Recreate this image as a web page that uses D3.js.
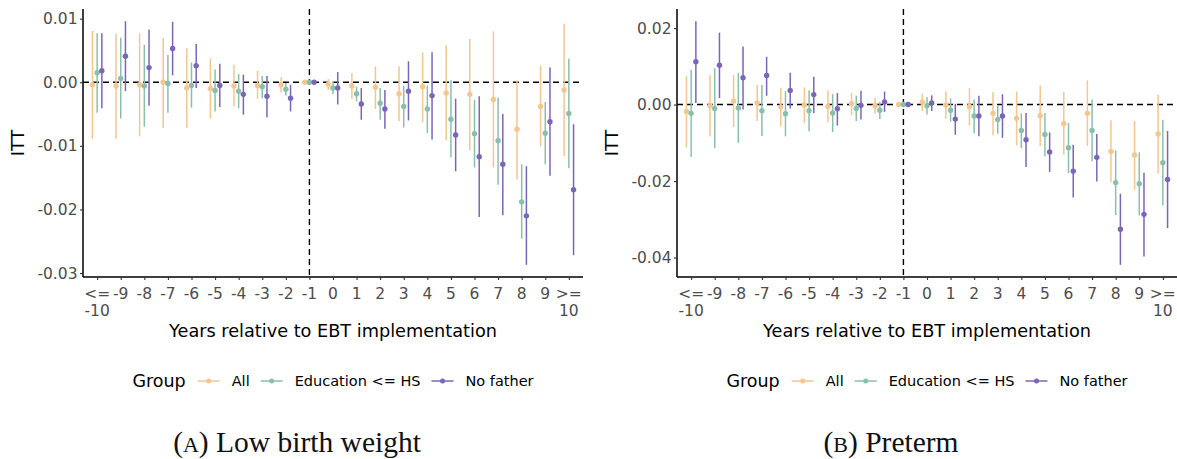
<!DOCTYPE html>
<html>
<head>
<meta charset="utf-8">
<script src="https://cdn.jsdelivr.net/npm/d3@7"></script>
<style>
  body { margin: 0; background: #fff; }
  svg { display: block; }
</style>
</head>
<body>
<script>
// Event-time categories (x axis)
const years = ["<=-10", "-9", "-8", "-7", "-6", "-5", "-4", "-3", "-2", "-1",
               "0", "1", "2", "3", "4", "5", "6", "7", "8", "9", ">=10"];
const yearLabels = [["<=", "-10"], ["-9"], ["-8"], ["-7"], ["-6"], ["-5"], ["-4"], ["-3"], ["-2"], ["-1"],
                    ["0"], ["1"], ["2"], ["3"], ["4"], ["5"], ["6"], ["7"], ["8"], ["9"], [">=", "10"]];
const groups = ["All", "Education <= HS", "No father"];
const groupColors = ["#F4C690", "#8BBFAD", "#7A66B9"];

// (A) Low birth weight
const lbwAllEst = [-0.0004, -0.0006, -0.0004, 0.0000, -0.0009, -0.0010, -0.0006, -0.0005, -0.0004, 0,
                   -0.0003, -0.0006, -0.0008, -0.0018, -0.0007, -0.0017, -0.0019, -0.0027, -0.0074, -0.0038, -0.0012];
const lbwAllHi  = [0.0081, 0.0076, 0.0077, 0.0070, 0.0053, 0.0037, 0.0027, 0.0018, 0.0008, null,
                   0.0005, 0.0014, 0.0025, 0.0025, 0.0047, 0.0058, 0.0068, 0.0080, 0.0003, 0.0026, 0.0092];
const lbwAllLo  = [-0.0089, -0.0089, -0.0085, -0.0072, -0.0071, -0.0057, -0.0038, -0.0026, -0.0016, null,
                   -0.0012, -0.0026, -0.0042, -0.0061, -0.0063, -0.0091, -0.0107, -0.0134, -0.0153, -0.0101, -0.0116];
const lbwEduEst = [0.0015, 0.0006, -0.0006, -0.0002, -0.0005, -0.0013, -0.0014, -0.0007, -0.0011, 0,
                   -0.0009, -0.0018, -0.0033, -0.0038, -0.0042, -0.0058, -0.0081, -0.0092, -0.0188, -0.0080, -0.0049];
const lbwEduHi  = [0.0077, 0.0070, 0.0059, 0.0043, 0.0031, 0.0020, 0.0013, 0.0010, -0.0001, null,
                   0.0002, -0.0007, -0.0009, -0.0006, -0.0005, 0.0003, -0.0028, -0.0024, -0.0129, -0.0031, 0.0037];
const lbwEduLo  = [-0.0048, -0.0057, -0.0070, -0.0048, -0.0040, -0.0046, -0.0041, -0.0025, -0.0021, null,
                   -0.0019, -0.0030, -0.0059, -0.0071, -0.0080, -0.0118, -0.0134, -0.0161, -0.0246, -0.0129, -0.0135];
const lbwNfEst  = [0.0018, 0.0041, 0.0023, 0.0053, 0.0026, -0.0005, -0.0019, -0.0022, -0.0025, 0,
                   -0.0009, -0.0034, -0.0042, -0.0014, -0.0021, -0.0083, -0.0117, -0.0129, -0.0210, -0.0062, -0.0169];
const lbwNfHi   = [0.0077, 0.0096, 0.0083, 0.0095, 0.0060, 0.0029, 0.0012, 0.0010, -0.0004, null,
                   0.0016, -0.0009, -0.0012, 0.0033, 0.0047, -0.0026, -0.0022, -0.0050, -0.0132, 0.0023, -0.0066];
const lbwNfLo   = [-0.0041, -0.0014, -0.0037, 0.0011, -0.0009, -0.0039, -0.0051, -0.0055, -0.0046, null,
                   -0.0035, -0.0059, -0.0073, -0.0060, -0.0090, -0.0140, -0.0212, -0.0209, -0.0287, -0.0147, -0.0272];

// (B) Preterm
const ptAllEst = [-0.0018, -0.0003, 0.0009, 0.0004, -0.0006, -0.0001, -0.0005, 0.0002, -0.0003, 0,
                  0.0006, -0.0001, -0.0005, -0.0023, -0.0036, -0.0029, -0.0050, -0.0023, -0.0123, -0.0132, -0.0077];
const ptAllHi  = [0.0075, 0.0077, 0.0077, 0.0051, 0.0044, 0.0045, 0.0037, 0.0030, 0.0017, null,
                  0.0028, 0.0035, 0.0043, 0.0033, 0.0034, 0.0050, 0.0033, 0.0063, -0.0041, -0.0043, 0.0026];
const ptAllLo  = [-0.0112, -0.0083, -0.0059, -0.0043, -0.0057, -0.0048, -0.0046, -0.0028, -0.0024, null,
                  -0.0017, -0.0037, -0.0055, -0.0080, -0.0107, -0.0109, -0.0131, -0.0108, -0.0203, -0.0223, -0.0180];
const ptEduEst = [-0.0023, -0.0010, -0.0009, -0.0016, -0.0024, -0.0016, -0.0022, -0.0010, -0.0015, 0,
                  -0.0003, -0.0015, -0.0030, -0.0039, -0.0068, -0.0078, -0.0113, -0.0068, -0.0204, -0.0207, -0.0152];
const ptEduHi  = [0.0091, 0.0095, 0.0083, 0.0051, 0.0035, 0.0037, 0.0027, 0.0023, 0.0007, null,
                  0.0019, 0.0016, 0.0013, -0.0003, -0.0023, -0.0022, -0.0048, 0.0013, -0.0120, -0.0125, -0.0040];
const ptEduLo  = [-0.0137, -0.0114, -0.0100, -0.0082, -0.0083, -0.0070, -0.0072, -0.0043, -0.0038, null,
                  -0.0026, -0.0045, -0.0075, -0.0076, -0.0114, -0.0135, -0.0179, -0.0148, -0.0289, -0.0290, -0.0264];
const ptNfEst  = [0.0112, 0.0103, 0.0070, 0.0076, 0.0037, 0.0026, -0.0011, -0.0002, 0.0007, 0,
                  0.0004, -0.0038, -0.0030, -0.0030, -0.0092, -0.0124, -0.0174, -0.0138, -0.0326, -0.0287, -0.0196];
const ptNfHi   = [0.0218, 0.0188, 0.0152, 0.0125, 0.0083, 0.0073, 0.0030, 0.0036, 0.0034, null,
                  0.0024, 0.0002, 0.0023, 0.0027, -0.0022, -0.0073, -0.0105, -0.0077, -0.0233, -0.0178, -0.0069];
const ptNfLo   = [0.0004, 0.0017, -0.0013, 0.0023, -0.0010, -0.0023, -0.0055, -0.0039, -0.0019, null,
                  -0.0017, -0.0079, -0.0083, -0.0087, -0.0163, -0.0176, -0.0243, -0.0201, -0.0419, -0.0397, -0.0323];

const W = 1177, H = 459;
const plotTop = 9, plotBottom = 277;
const tickFont = "DejaVu Sans, sans-serif";

const svg = d3.select("body").append("svg")
    .attr("width", W)
    .attr("height", H)
    .style("font-family", tickFont);

const fmt = d => d3.format(".2f")(d).replace("\u2212", "-");

function drawPanel(p) {
    const x = d3.scalePoint().domain(years).range([p.x0, p.x1]).padding(0.6);
    const step = x.step();

    const series = [
        { est: p.est[0], lo: p.lo[0], hi: p.hi[0] },
        { est: p.est[1], lo: p.lo[1], hi: p.hi[1] },
        { est: p.est[2], lo: p.lo[2], hi: p.hi[2] }
    ];
    const allVals = series.flatMap(s => s.lo.concat(s.hi)).filter(v => v !== null);
    const [mn, mx] = d3.extent(allVals);
    const pad = (mx - mn) * 0.05;
    const y = d3.scaleLinear().domain([mn - pad, mx + pad]).range([plotBottom, plotTop]);

    const g = svg.append("g");

    // Reference lines
    g.append("line")
        .attr("x1", p.x0).attr("x2", p.x1)
        .attr("y1", y(0)).attr("y2", y(0))
        .attr("stroke", "#000").attr("stroke-width", 1.4)
        .attr("stroke-dasharray", "6,4");
    g.append("line")
        .attr("x1", x("-1")).attr("x2", x("-1"))
        .attr("y1", plotTop).attr("y2", plotBottom)
        .attr("stroke", "#000").attr("stroke-width", 1.4)
        .attr("stroke-dasharray", "6,4");

    // Error bars + points
    const offsets = [-0.2, 0, 0.2];
    series.forEach((s, gi) => {
        const rows = years.map((yr, i) => ({ yr, est: s.est[i], lo: s.lo[i], hi: s.hi[i] }));
        const sg = g.append("g");
        sg.selectAll("line")
            .data(rows.filter(r => r.lo !== null))
            .enter().append("line")
            .attr("x1", r => x(r.yr) + offsets[gi] * step)
            .attr("x2", r => x(r.yr) + offsets[gi] * step)
            .attr("y1", r => y(r.lo))
            .attr("y2", r => y(r.hi))
            .attr("stroke", groupColors[gi])
            .attr("stroke-width", 1.5);
        sg.selectAll("circle")
            .data(rows)
            .enter().append("circle")
            .attr("cx", r => x(r.yr) + offsets[gi] * step)
            .attr("cy", r => y(r.est))
            .attr("r", 2.7)
            .attr("fill", groupColors[gi]);
    });

    // Y axis
    const yAxis = g.append("g")
        .attr("transform", `translate(${p.x0},0)`)
        .call(d3.axisLeft(y).tickValues(p.yTicks).tickFormat(fmt).tickSize(3).tickPadding(2.5));
    yAxis.select(".domain").attr("d", `M0,${plotTop}V${plotBottom}`).attr("stroke", "#000").attr("stroke-width", 1.5);
    yAxis.selectAll(".tick line").attr("stroke", "#333").attr("stroke-width", 1.1);
    yAxis.selectAll(".tick text")
        .attr("fill", "#4D4D4D")
        .style("font-size", "15.5px")
        .style("font-family", tickFont);

    // X axis
    const xAxis = g.append("g")
        .attr("transform", `translate(0,${plotBottom})`)
        .call(d3.axisBottom(x).tickSize(3).tickFormat(""));
    xAxis.select(".domain").attr("d", `M${p.x0},0H${p.x1}`).attr("stroke", "#000").attr("stroke-width", 1.5);
    xAxis.selectAll(".tick line").attr("stroke", "#333").attr("stroke-width", 1.1);
    xAxis.selectAll(".tick text").remove();
    years.forEach((yr, i) => {
        const t = g.append("text")
            .attr("x", x(yr))
            .attr("y", 298.5)
            .attr("text-anchor", "middle")
            .attr("fill", "#4D4D4D")
            .style("font-size", "15.5px");
        yearLabels[i].forEach((ln, j) => {
            t.append("tspan").attr("x", x(yr)).attr("dy", j === 0 ? 0 : 17).text(ln);
        });
    });

    // Axis titles
    g.append("text")
        .attr("x", (p.x0 + p.x1) / 2)
        .attr("y", 337)
        .attr("text-anchor", "middle")
        .style("font-size", "17.7px")
        .attr("fill", "#000")
        .text("Years relative to EBT implementation");
    g.append("text")
        .attr("transform", `translate(${p.yTitleX},${(plotTop + plotBottom) / 2}) rotate(-90)`)
        .attr("text-anchor", "middle")
        .style("font-size", "17.7px")
        .attr("fill", "#000")
        .text("ITT");

    // Legend
    const leg = g.append("g");
    const legY = 381;
    let cx = 0;
    const title = leg.append("text")
        .attr("x", cx).attr("y", legY + 6)
        .style("font-size", "17.5px")
        .text("Group");
    cx += title.node().getComputedTextLength() + 12;
    groups.forEach((name, gi) => {
        leg.append("line")
            .attr("x1", cx).attr("x2", cx + 22)
            .attr("y1", legY).attr("y2", legY)
            .attr("stroke", groupColors[gi]).attr("stroke-width", 1.5);
        leg.append("circle")
            .attr("cx", cx + 11).attr("cy", legY).attr("r", 2.5)
            .attr("fill", groupColors[gi]);
        cx += 22 + 12;
        const lt = leg.append("text")
            .attr("x", cx).attr("y", legY + 5)
            .style("font-size", "14.5px")
            .text(name);
        cx += lt.node().getComputedTextLength() + (gi < groups.length - 1 ? 11 : 0);
    });
    leg.attr("transform", `translate(${(p.x0 + p.x1) / 2 - cx / 2},0)`);

    // Caption
    const cap = g.append("text")
        .attr("x", p.capX)
        .attr("y", 452)
        .attr("text-anchor", "middle")
        .style("font-family", "Liberation Serif, serif")
        .style("font-size", "29.5px")
        .attr("fill", "#111");
    cap.append("tspan").text("(");
    cap.append("tspan").style("font-size", "22px").text(p.capLetter);
    cap.append("tspan").text(") " + p.caption);
}

drawPanel({
    x0: 83, x1: 583, yTitleX: 24,
    yTicks: [0.01, 0, -0.01, -0.02, -0.03],
    est: [lbwAllEst, lbwEduEst, lbwNfEst],
    lo: [lbwAllLo, lbwEduLo, lbwNfLo],
    hi: [lbwAllHi, lbwEduHi, lbwNfHi],
    capX: 297, capLetter: "A", caption: "Low birth weight"
});

drawPanel({
    x0: 677, x1: 1177, yTitleX: 618,
    yTicks: [0.02, 0, -0.02, -0.04],
    est: [ptAllEst, ptEduEst, ptNfEst],
    lo: [ptAllLo, ptEduLo, ptNfLo],
    hi: [ptAllHi, ptEduHi, ptNfHi],
    capX: 891, capLetter: "B", caption: "Preterm"
});
</script>
</body>
</html>
